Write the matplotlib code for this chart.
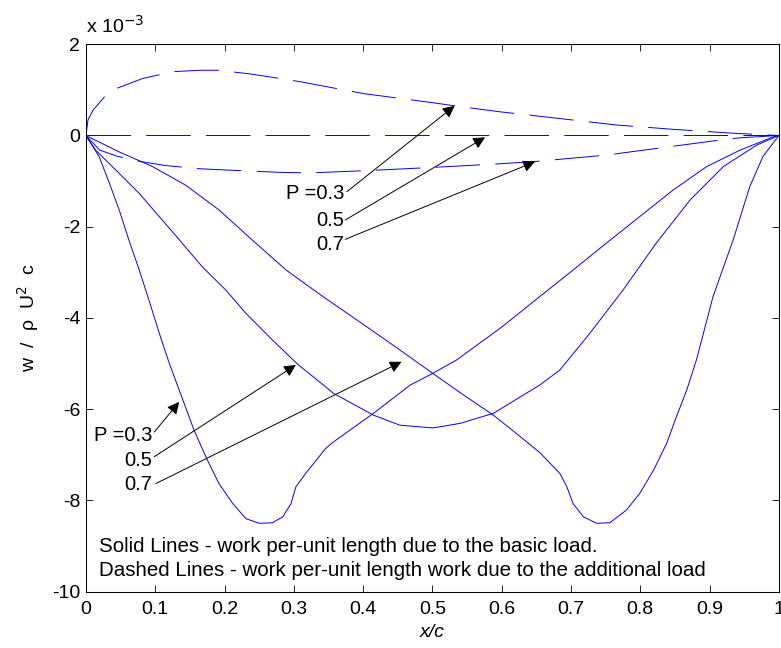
import numpy as np
import matplotlib
matplotlib.use('Agg')
import matplotlib.pyplot as plt

plt.rcParams['font.family'] = ['Liberation Sans', 'DejaVu Sans']
plt.rcParams['lines.scale_dashes'] = False
plt.rcParams['axes.unicode_minus'] = False

# work per-unit length (units of 1e-3), basic load, max camber position P
x_p3 = [0, 0.019, 0.034, 0.048, 0.062, 0.077, 0.091, 0.106, 0.12, 0.140, 0.156, 0.173, 0.192,
        0.212, 0.231, 0.250, 0.269, 0.284, 0.296, 0.303, 0.317, 0.346, 0.357, 0.415, 0.468,
        0.501, 0.535, 0.60, 0.655, 0.703, 0.751, 0.799, 0.847, 0.896, 0.944, 0.992, 1.0]
w_p3 = [0, -0.46, -1.05, -1.63, -2.29, -2.95, -3.61, -4.34, -4.98, -5.80, -6.46, -7.04, -7.63,
        -8.07, -8.40, -8.50, -8.49, -8.36, -8.07, -7.70, -7.41, -6.86, -6.72, -6.09, -5.47,
        -5.21, -4.92, -4.20, -3.53, -2.95, -2.36, -1.78, -1.20, -0.68, -0.32, -0.03, 0]

x_p5 = [0, 0.014, 0.048, 0.077, 0.106, 0.135, 0.168, 0.202, 0.231, 0.269, 0.306, 0.346, 0.357,
        0.415, 0.453, 0.501, 0.540, 0.588, 0.655, 0.684, 0.727, 0.775, 0.823, 0.872, 0.920,
        0.968, 1.0]
w_p5 = [0, -0.32, -0.83, -1.27, -1.78, -2.29, -2.88, -3.39, -3.90, -4.48, -5.02, -5.51, -5.65,
        -6.13, -6.35, -6.41, -6.31, -6.09, -5.47, -5.14, -4.34, -3.39, -2.36, -1.41, -0.68,
        -0.21, 0]

x_p7 = [0, 0.048, 0.096, 0.144, 0.192, 0.240, 0.289, 0.342, 0.405, 0.453, 0.501, 0.549, 0.588,
        0.621, 0.655, 0.684, 0.694, 0.703, 0.718, 0.737, 0.756, 0.780, 0.799, 0.819, 0.838,
        0.852, 0.867, 0.881, 0.905, 0.934, 0.958, 0.977, 1.0]
w_p7 = [0, -0.36, -0.68, -1.09, -1.63, -2.29, -2.95, -3.53, -4.19, -4.70, -5.22, -5.73, -6.13,
        -6.53, -6.95, -7.41, -7.70, -8.07, -8.36, -8.50, -8.49, -8.21, -7.85, -7.34, -6.75,
        -6.17, -5.58, -4.92, -3.53, -2.29, -1.12, -0.46, 0]

# additional load
xa_p3 = [0, 0.003, 0.0105, 0.027, 0.044, 0.082, 0.126, 0.165, 0.19, 0.237, 0.284, 0.309, 0.40,
         0.50, 0.532, 0.597, 0.621, 0.679, 0.766, 0.852, 0.934, 1.0]
wa_p3 = [0, 0.34, 0.56, 0.85, 1.03, 1.25, 1.40, 1.43, 1.43, 1.35, 1.24, 1.18, 0.92,
         0.72, 0.65, 0.52, 0.48, 0.38, 0.23, 0.13, 0.05, 0]

xa_p5 = [0, 1.0]
wa_p5 = [0, 0]

xa_p7 = [0, 0.02, 0.044, 0.078, 0.116, 0.165, 0.237, 0.284, 0.323, 0.405, 0.5, 0.597, 0.648,
         0.751, 0.84, 0.91, 0.944, 1.0]
wa_p7 = [0, -0.32, -0.45, -0.57, -0.66, -0.73, -0.78, -0.81, -0.82, -0.77, -0.70, -0.62, -0.57,
         -0.43, -0.25, -0.11, -0.05, 0]

p_labels = ['P =0.3', '0.5', '0.7']

fig = plt.figure(figsize=(7.81, 6.48), dpi=100)
ax = fig.add_axes([0.110, 0.0869, 0.8873, 0.8448])

blue = (0, 0, 1)
for xs, ws in [(x_p3, w_p3), (x_p5, w_p5), (x_p7, w_p7)]:
    ax.plot(xs, ws, color=blue, lw=0.7)
for xs, ws in [(xa_p3, wa_p3), (xa_p5, wa_p5), (xa_p7, wa_p7)]:
    ax.plot(xs, ws, color=blue, lw=0.7, dashes=(32, 11))

ax.set_xlim(0, 1)
ax.set_ylim(-10, 2)
ax.set_xticks(np.arange(0, 1.01, 0.1))
ax.set_xticklabels(['0', '0.1', '0.2', '0.3', '0.4', '0.5', '0.6', '0.7', '0.8', '0.9', '1'])
ax.set_yticks([-10, -8, -6, -4, -2, 0, 2])
ax.tick_params(direction='in', length=5, width=0.6, top=True, right=True, labelsize=14)
ax.tick_params(axis='x', pad=7)
ax.tick_params(axis='y', pad=4)
for s in ax.spines.values():
    s.set_linewidth(0.75)

ax.set_xlabel('x/c', fontsize=14, style='italic', labelpad=4)
ax.set_ylabel(r'w  /  $\mathregular{\rho}$  U$^2$  c', fontsize=14, labelpad=8)
fig.text(0.110, 0.949, r'x 10$^{-3}$', fontsize=14, ha='left', va='baseline')

arrow_kw = dict(arrowstyle='-|>', color='black', lw=0.7, mutation_scale=18,
                shrinkA=0, shrinkB=0)

# labels for the additional load (dashed) curves
txt_y1 = [-1.276, -1.857, -2.40]
tail1 = [(0.3766, -1.232), (0.3742, -1.853), (0.3742, -2.276)]
tip1 = [(0.532, 0.65), (0.576, -0.04), (0.648, -0.575)]
for lab, ty, t0, t1 in zip(p_labels, txt_y1, tail1, tip1):
    ax.text(0.3723, ty, lab, fontsize=14.5, ha='right', va='center')
    ax.annotate('', xy=t1, xytext=t0, arrowprops=arrow_kw)

# labels for the basic load (solid) curves
txt_y2 = [-6.57, -7.12, -7.66]
tail2 = [(0.0987, -6.50), (0.0987, -7.04), (0.101, -7.63)]
tip2 = [(0.1346, -5.84), (0.303, -5.03), (0.4555, -4.96)]
for lab, ty, t0, t1 in zip(p_labels, txt_y2, tail2, tip2):
    ax.text(0.0962, ty, lab, fontsize=14.5, ha='right', va='center')
    ax.annotate('', xy=t1, xytext=t0, arrowprops=arrow_kw)

ax.text(0.0195, -9.0, 'Solid Lines - work per-unit length due to the basic load.',
        fontsize=14.8, ha='left', va='center')
ax.text(0.0195, -9.53, 'Dashed Lines - work per-unit length work due to the additional load',
        fontsize=14.8, ha='left', va='center')

fig.savefig('out.png', dpi=100)
